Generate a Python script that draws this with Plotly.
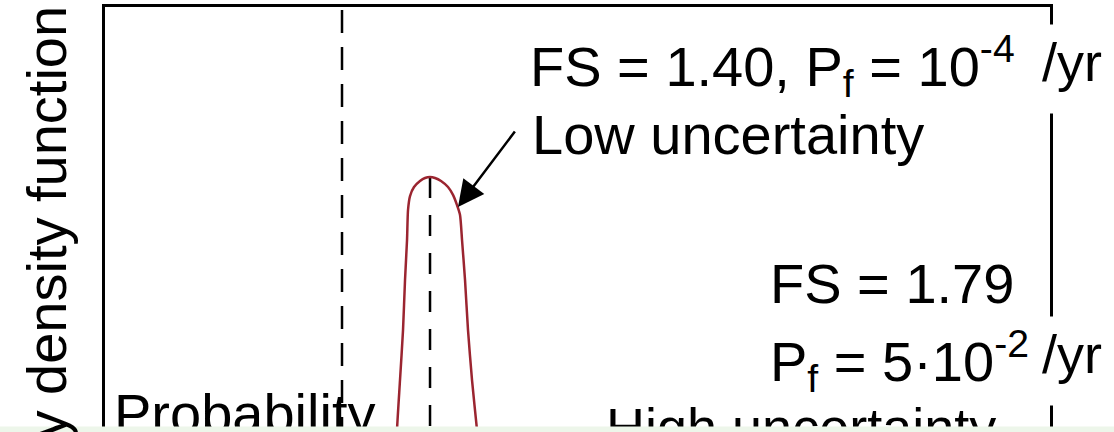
import plotly.graph_objects as go

# ---------------- data ----------------
# Low-uncertainty PDF (FS on x, probability density on y)
low_fs = [1.250, 1.250, 1.2636, 1.2773, 1.2864, 1.2955, 1.300, 1.3091, 1.3273, 1.3545, 1.3773, 1.400,
          1.4227, 1.450, 1.4818, 1.5045, 1.5227, 1.5364, 1.5455, 1.5591, 1.5727, 1.5909, 1.6136, 1.6182]
low_pdf = [2.270, 2.333, 2.648, 2.963, 3.279, 3.531, 3.720, 3.808, 3.865, 3.903, 3.922, 3.928,
           3.922, 3.903, 3.865, 3.815, 3.751, 3.689, 3.531, 3.279, 2.963, 2.648, 2.333, 2.270]

fs_threshold = 1.0          # FS = 1 (failure) reference line
fs_low = 1.40               # mean FS, low uncertainty
pdf_low_peak = 3.928

x_range = [-0.0773, 4.218]
y_range = [2.3203, 5.0]

title_text = "Probability density function"
label_low_1 = "FS = 1.40, P<sub>f</sub> = 10<sup>-4</sup>"
label_low_2 = "Low uncertainty"
label_high_1 = "FS = 1.79"
label_high_2 = "P<sub>f</sub> = 5·10<sup>-2</sup>"
label_unit = "/yr"
label_prob = "Probability"
label_high_unc = "High uncertainty"

# ---------------- layout helpers (pixel -> data/paper) ----------------
W, H = 1114, 432
L, R, T, B = 105, 64, 7, 0
pw, ph = W - L - R, H - T - B


def xd(px):
    return x_range[0] + (px - L) / pw * (x_range[1] - x_range[0])


def yd(py):
    return y_range[1] - (py - T) / ph * (y_range[1] - y_range[0])


def xp(px):
    return (px - L) / pw


def yp(py):
    return (H - B - py) / ph


FONT = "Liberation Sans, Arial, sans-serif"
FS_SIZE = 56

fig = go.Figure()

# dashed reference lines
fig.add_trace(go.Scatter(x=[fs_threshold, fs_threshold], y=[yd(10), yd(460)], mode="lines",
                         line=dict(color="black", width=2.5, dash="23px,14px"),
                         hoverinfo="skip", showlegend=False, cliponaxis=True))
fig.add_trace(go.Scatter(x=[fs_low, fs_low], y=[pdf_low_peak, yd(460)], mode="lines",
                         line=dict(color="black", width=2.5, dash="21px,17px"),
                         hoverinfo="skip", showlegend=False))

# low uncertainty pdf
fig.add_trace(go.Scatter(x=low_fs, y=low_pdf, mode="lines",
                         line=dict(color="#9b2530", width=2.5, shape="spline", smoothing=0.6),
                         hoverinfo="skip", showlegend=False))

# texts partially hidden by the bottom band
fig.add_trace(go.Scatter(x=[xd(114)], y=[yd(419)], mode="text", text=[label_prob],
                         textposition="middle right", cliponaxis=False,
                         textfont=dict(family=FONT, size=FS_SIZE, color="black"),
                         hoverinfo="skip", showlegend=False))
fig.add_trace(go.Scatter(x=[xd(606)], y=[yd(405)], mode="text", text=[label_high_unc],
                         textposition="bottom right", cliponaxis=False,
                         textfont=dict(family=FONT, size=54, color="black"),
                         hoverinfo="skip", showlegend=False))

ann = []
font = dict(family=FONT, size=FS_SIZE, color="black")
# y-axis title (rotated)
ann.append(dict(text=title_text, xref="paper", yref="paper", x=xp(46), y=yp(4),
                xanchor="center", yanchor="top", textangle=-90, showarrow=False,
                font=dict(family=FONT, size=56, color="black")))
# white covers that break the right frame line
for cy in (69, 361):
    ann.append(dict(text=" ", xref="paper", yref="paper", x=xp(1050), y=yp(cy),
                    xanchor="center", yanchor="middle", width=14, height=88,
                    bgcolor="white", showarrow=False, borderpad=0, font=dict(size=10)))
ann.append(dict(text=label_low_1, xref="paper", yref="paper", x=xp(528), y=yp(66),
                xanchor="left", yanchor="middle", align="left", showarrow=False, font=font))
ann.append(dict(text=label_low_2, xref="paper", yref="paper", x=xp(530), y=yp(134),
                xanchor="left", yanchor="middle", align="left", showarrow=False, font=font))
ann.append(dict(text=label_unit, xref="paper", yref="paper", x=xp(1040), y=yp(62),
                xanchor="left", yanchor="middle", align="left", showarrow=False,
                font=dict(family=FONT, size=54, color="black")))
ann.append(dict(text=label_high_1, xref="paper", yref="paper", x=xp(768), y=yp(283),
                xanchor="left", yanchor="middle", align="left", showarrow=False, font=font))
ann.append(dict(text=label_high_2, xref="paper", yref="paper", x=xp(768), y=yp(361),
                xanchor="left", yanchor="middle", align="left", showarrow=False, font=font))
ann.append(dict(text=label_unit, xref="paper", yref="paper", x=xp(1040), y=yp(354),
                xanchor="left", yanchor="middle", align="left", showarrow=False,
                font=dict(family=FONT, size=54, color="black")))
# arrow pointing to the low-uncertainty curve
ann.append(dict(text="", x=xd(458), y=yd(207), ax=xd(516), ay=yd(130), xref="x", yref="y",
                axref="x", ayref="y", showarrow=True, arrowhead=2, arrowsize=2.1,
                arrowwidth=2.5, arrowcolor="black"))

fig.update_layout(
    width=W, height=H,
    margin=dict(l=L, r=R, t=T, b=B),
    paper_bgcolor="white", plot_bgcolor="white",
    showlegend=False,
    annotations=ann,
    shapes=[dict(type="rect", xref="paper", yref="paper", x0=xp(-5), x1=xp(W + 5),
                 y0=yp(H + 5), y1=yp(426.5), fillcolor="#edf6ea", line=dict(width=0),
                 layer="above")],
    xaxis=dict(range=x_range, side="top", showline=True, linecolor="black", linewidth=2.5,
               showticklabels=False, ticks="", showgrid=False, zeroline=False),
    yaxis=dict(range=y_range, showline=True, mirror=True, linecolor="black", linewidth=2.5,
               showticklabels=False, ticks="", showgrid=False, zeroline=False),
)

fig.write_html("out.html")
